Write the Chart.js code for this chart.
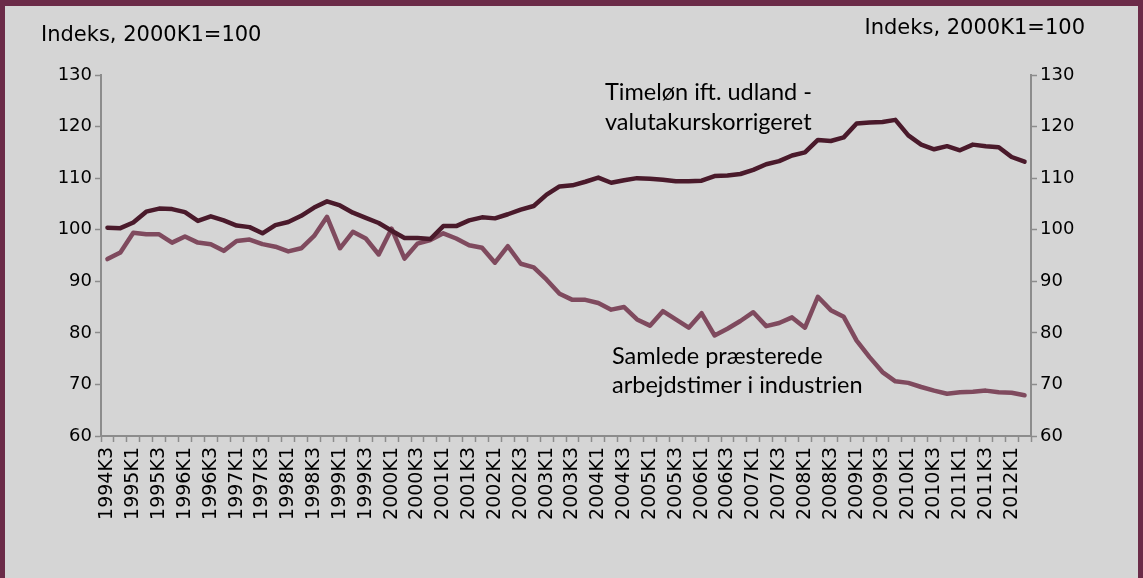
<!DOCTYPE html>
<html>
<head>
<meta charset="utf-8">
<script src="https://cdn.jsdelivr.net/npm/chart.js@4"></script>
<style>
  html, body { margin: 0; padding: 0; background: #d5d5d5; }
  #wrap { width: 1143px; height: 578px; }
</style>
</head>
<body>
<div id="wrap"><canvas id="chart" width="1143" height="578"></canvas></div>
<script>
// quarters 1994K3 .. 2012K2
const quarters = [
  '1994K3', '1994K4',
  '1995K1', '1995K2', '1995K3', '1995K4',
  '1996K1', '1996K2', '1996K3', '1996K4',
  '1997K1', '1997K2', '1997K3', '1997K4',
  '1998K1', '1998K2', '1998K3', '1998K4',
  '1999K1', '1999K2', '1999K3', '1999K4',
  '2000K1', '2000K2', '2000K3', '2000K4',
  '2001K1', '2001K2', '2001K3', '2001K4',
  '2002K1', '2002K2', '2002K3', '2002K4',
  '2003K1', '2003K2', '2003K3', '2003K4',
  '2004K1', '2004K2', '2004K3', '2004K4',
  '2005K1', '2005K2', '2005K3', '2005K4',
  '2006K1', '2006K2', '2006K3', '2006K4',
  '2007K1', '2007K2', '2007K3', '2007K4',
  '2008K1', '2008K2', '2008K3', '2008K4',
  '2009K1', '2009K2', '2009K3', '2009K4',
  '2010K1', '2010K2', '2010K3', '2010K4',
  '2011K1', '2011K2', '2011K3', '2011K4',
  '2012K1', '2012K2'
];

// Timeløn ift. udland - valutakurskorrigeret
const timeloen = [
  100.4, 100.3,
  101.4, 103.5, 104.1, 104.0,
  103.4, 101.7, 102.6, 101.8,
  100.8, 100.5, 99.3, 100.9,
  101.5, 102.7, 104.3, 105.5,
  104.7, 103.3, 102.3, 101.3,
  99.8, 98.4, 98.4, 98.2,
  100.7, 100.7, 101.8, 102.4,
  102.2, 103.0, 103.9, 104.6,
  106.8, 108.4, 108.6, 109.3,
  110.1, 109.1, 109.6, 110.0,
  109.9, 109.7, 109.4, 109.4,
  109.5, 110.4, 110.5, 110.8,
  111.6, 112.7, 113.3, 114.4,
  115.0, 117.4, 117.2, 117.9,
  120.6, 120.8, 120.9, 121.3,
  118.3, 116.5, 115.6, 116.2,
  115.4, 116.5, 116.2, 116.0,
  114.1, 113.2
];

// Samlede præsterede arbejdstimer i industrien
const arbejdstimer = [
  94.3, 95.6,
  99.4, 99.1, 99.1, 97.5,
  98.7, 97.5, 97.2, 95.9,
  97.8, 98.1, 97.2, 96.7,
  95.8, 96.4, 98.8, 102.5,
  96.4, 99.6, 98.3, 95.2,
  100.2, 94.4, 97.3, 98.0,
  99.3, 98.3, 97.0, 96.5,
  93.6, 96.8, 93.4, 92.7,
  90.3, 87.6, 86.4, 86.4,
  85.8, 84.5, 85.0, 82.6,
  81.4, 84.2, 82.6, 81.0,
  83.8, 79.5, 80.8, 82.3,
  84.0, 81.3, 81.9, 83.0,
  81.0, 87.0, 84.4, 83.1,
  78.5, 75.3, 72.4, 70.6,
  70.3, 69.5, 68.8, 68.2,
  68.5, 68.6, 68.8, 68.5,
  68.4, 67.9
];

const yMin = 60;
const yMax = 130;
const yStep = 10;

const AXIS_GREY = '#8c8c8c';
const DARK = '#4a1a2b';
const LIGHT = '#7f4a5e';
const FRAME = '#6b2b48';
const TICK_FONT = 'DejaVu Sans';

// background, frame and free texts
const decorations = {
  id: 'decorations',
  beforeDraw(chart) {
    const ctx = chart.ctx;
    const w = chart.width, h = chart.height;
    ctx.save();
    ctx.fillStyle = '#d5d5d5';
    ctx.fillRect(0, 0, w, h);
    ctx.fillStyle = FRAME;
    ctx.fillRect(0, 0, w, 6);
    ctx.fillRect(0, 0, 5, h);
    ctx.fillRect(w - 5, 0, 5, h);
    ctx.restore();
  },
  afterDraw(chart) {
    const ctx = chart.ctx;
    ctx.save();
    ctx.fillStyle = '#000';
    ctx.textBaseline = 'middle';
    ctx.font = '21px "DejaVu Sans"';
    ctx.textAlign = 'left';
    ctx.fillText('Indeks, 2000K1=100', 41, 36);
    ctx.textAlign = 'right';
    ctx.fillText('Indeks, 2000K1=100', 1085, 29);

    ctx.textAlign = 'left';
    ctx.font = '23.5px Lato';
    ctx.fillText('Timeløn ift. udland -', 605, 92);
    ctx.fillText('valutakurskorrigeret', 605, 122);
    ctx.fillText('Samlede præsterede', 612, 356);
    ctx.fillText('arbejdstimer i industrien', 612, 385);
    ctx.restore();
  }
};

function yAxis(position, width) {
  return {
    type: 'linear',
    position: position,
    min: yMin,
    max: yMax,
    border: { display: true, color: AXIS_GREY, width: 2 },
    grid: {
      drawOnChartArea: false,
      drawTicks: true,
      tickLength: 6,
      tickColor: AXIS_GREY,
      tickWidth: 1.5
    },
    ticks: {
      stepSize: yStep,
      color: '#000',
      padding: 3,
      font: { family: TICK_FONT, size: 18 }
    },
    afterFit(scale) { scale.width = width; }
  };
}

new Chart(document.getElementById('chart'), {
  type: 'line',
  data: {
    labels: quarters,
    datasets: [
      {
        label: 'Timeløn ift. udland - valutakurskorrigeret',
        data: timeloen,
        borderColor: DARK,
        borderWidth: 4.5,
        pointRadius: 0,
        tension: 0,
        borderJoinStyle: 'round',
        borderCapStyle: 'round',
        yAxisID: 'y'
      },
      {
        label: 'Samlede præsterede arbejdstimer i industrien',
        data: arbejdstimer,
        borderColor: LIGHT,
        borderWidth: 4.5,
        pointRadius: 0,
        tension: 0,
        borderJoinStyle: 'round',
        borderCapStyle: 'round',
        yAxisID: 'y'
      }
    ]
  },
  options: {
    responsive: false,
    animation: false,
    layout: { padding: { top: 75, left: 0, right: 0, bottom: 0 } },
    plugins: {
      legend: { display: false },
      tooltip: { enabled: false }
    },
    scales: {
      x: {
        type: 'category',
        offset: true,
        border: { display: true, color: AXIS_GREY, width: 2 },
        grid: {
          offset: true,
          drawOnChartArea: false,
          drawTicks: true,
          tickLength: 6,
          tickColor: AXIS_GREY,
          tickWidth: 1.5
        },
        ticks: {
          autoSkip: false,
          minRotation: 90,
          maxRotation: 90,
          padding: 5,
          color: '#000',
          font: { family: TICK_FONT, size: 19 },
          callback(value, index) {
            return index % 2 === 0 ? quarters[index] : '';
          }
        },
        afterFit(scale) { scale.height = 142; }
      },
      y: yAxis('left', 101),
      y2: yAxis('right', 112)
    }
  },
  plugins: [decorations]
});
</script>
</body>
</html>
